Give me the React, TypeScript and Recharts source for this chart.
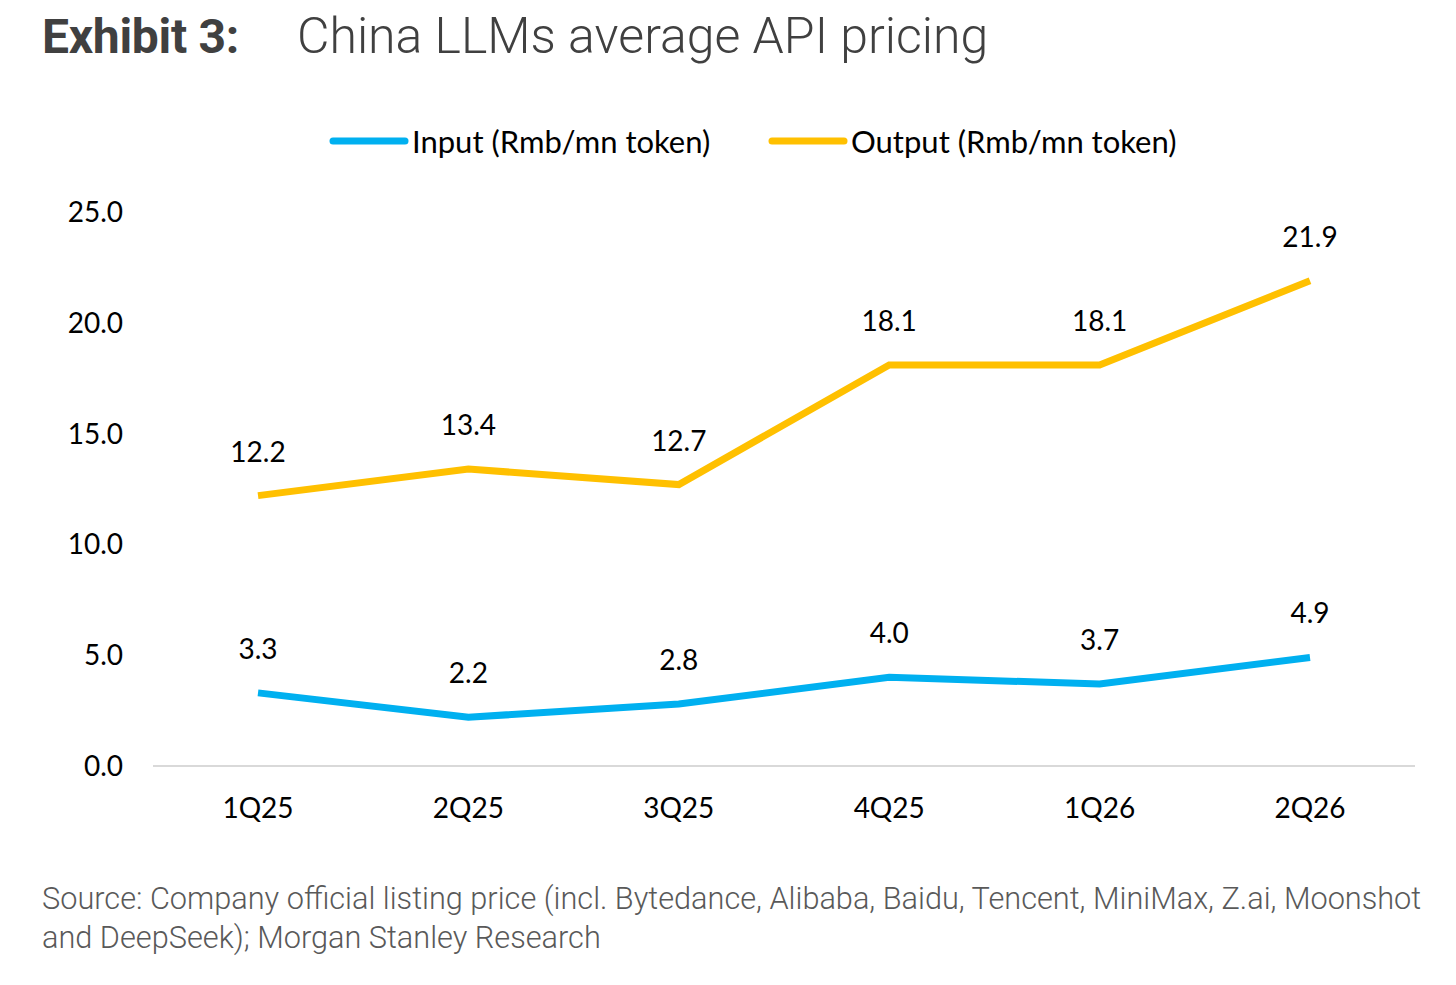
import React from "react";
import { LineChart, Line, XAxis, YAxis, LabelList } from "recharts";

const quarters = ["1Q25", "2Q25", "3Q25", "4Q25", "1Q26", "2Q26"];
const inputPrices = [3.3, 2.2, 2.8, 4.0, 3.7, 4.9];
const outputPrices = [12.2, 13.4, 12.7, 18.1, 18.1, 21.9];
const yTicks = [0, 5, 10, 15, 20, 25];

const seriesNames = { input: "Input (Rmb/mn token)", output: "Output (Rmb/mn token)" };
const BLUE = "#00B0F0";
const ORANGE = "#FFC000";
const CHART_FONT = "Lato, 'Open Sans', sans-serif";

const data = quarters.map((q, i) => ({ q, input: inputPrices[i], output: outputPrices[i] }));

const fmt = (v: number) => Number(v).toFixed(1);

function LegendItem({ color, label, left }: { color: string; label: string; left: number }) {
  return (
    <div style={{ position: "absolute", left, top: 0, display: "flex", alignItems: "center", height: 44 }}>
      <svg width={80} height={12} style={{ marginRight: 3 }}>
        <line x1={4} y1={6} x2={76} y2={6} stroke={color} strokeWidth={7} strokeLinecap="round" />
      </svg>
      <span>{label}</span>
    </div>
  );
}

export default function App() {
  return (
    <div
      style={{
        position: "absolute",
        left: 0,
        top: 0,
        width: 1456,
        height: 985,
        background: "#fff",
        overflow: "hidden",
      }}
    >
      <div
        style={{
          position: "absolute",
          left: 42,
          top: 4,
          whiteSpace: "nowrap",
          fontFamily: "Roboto, sans-serif",
          color: "#404040",
          lineHeight: "64px",
        }}
      >
        <span style={{ fontWeight: 700, fontSize: 48, letterSpacing: -0.3 }}>Exhibit 3:</span>
        <span style={{ fontWeight: 300, fontSize: 50, marginLeft: 58 }}>China LLMs average API pricing</span>
      </div>

      <div
        style={{
          position: "absolute",
          left: 0,
          top: 119,
          width: 1456,
          fontFamily: CHART_FONT,
          fontSize: 31,
          color: "#000",
          whiteSpace: "nowrap",
        }}
      >
        <LegendItem color={BLUE} label={seriesNames.input} left={329} />
        <LegendItem color={ORANGE} label={seriesNames.output} left={768} />
      </div>

      <div style={{ position: "absolute", left: 0, top: 0 }}>
        <LineChart
          width={1456}
          height={985}
          data={data}
          margin={{ top: 212, right: 41, bottom: 159, left: 53 }}
        >
          <XAxis
            dataKey="q"
            height={60}
            padding={{ left: 105, right: 105 }}
            tickLine={false}
            tickSize={0}
            tickMargin={32}
            axisLine={{ stroke: "#D9D9D9", strokeWidth: 2 }}
            tick={{ fill: "#000", fontSize: 28, fontFamily: CHART_FONT }}
            interval={0}
          />
          <YAxis
            width={100}
            domain={[0, 25]}
            ticks={yTicks}
            tickFormatter={fmt}
            axisLine={false}
            tickLine={false}
            tickSize={0}
            tickMargin={30}
            tick={{ fill: "#000", fontSize: 28, fontFamily: CHART_FONT }}
          />
          <Line
            dataKey="input"
            name={seriesNames.input}
            stroke={BLUE}
            strokeWidth={7}
            dot={false}
            isAnimationActive={false}
          >
            <LabelList
              dataKey="input"
              position="top"
              offset={34}
              formatter={fmt}
              style={{ fill: "#000", fontSize: 28, fontFamily: CHART_FONT }}
            />
          </Line>
          <Line
            dataKey="output"
            name={seriesNames.output}
            stroke={ORANGE}
            strokeWidth={7}
            dot={false}
            isAnimationActive={false}
          >
            <LabelList
              dataKey="output"
              position="top"
              offset={34}
              formatter={fmt}
              style={{ fill: "#000", fontSize: 28, fontFamily: CHART_FONT }}
            />
          </Line>
        </LineChart>
      </div>

      <div
        style={{
          position: "absolute",
          left: 42,
          top: 879,
          fontFamily: "Roboto, sans-serif",
          fontWeight: 300,
          fontSize: 30.7,
          lineHeight: "39px",
          color: "#595959",
          whiteSpace: "nowrap",
        }}
      >
        <div>
          Source: Company official listing price (incl. Bytedance, Alibaba, Baidu, Tencent, MiniMax, Z.ai, Moonshot
        </div>
        <div>and DeepSeek); Morgan Stanley Research</div>
      </div>
    </div>
  );
}
